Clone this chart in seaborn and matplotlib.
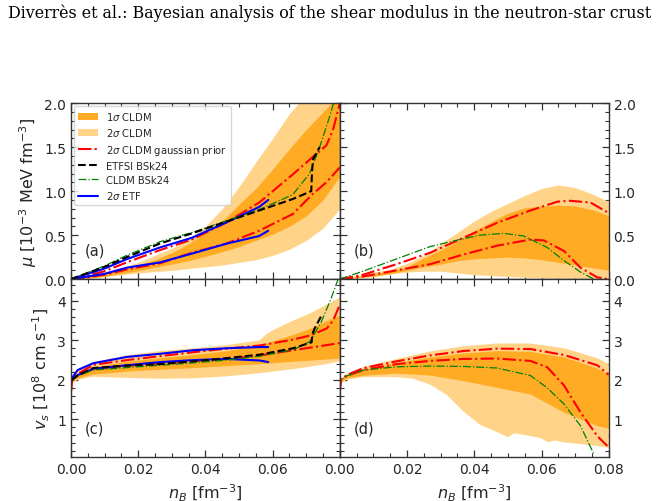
import numpy as np
import pandas as pd
import matplotlib
matplotlib.use("Agg")
import matplotlib.pyplot as plt
from matplotlib.patches import Patch
from matplotlib.lines import Line2D
from matplotlib.ticker import MultipleLocator, FuncFormatter
import seaborn as sns

# ---------------- data ----------------
# Panel (a): shear modulus, band grid
n_band = [0, 0.005, 0.01, 0.015, 0.02, 0.025, 0.03, 0.035, 0.04, 0.045, 0.05,
          0.055, 0.06, 0.065, 0.07, 0.075, 0.08]
a_2s_up = [0, 0.04, 0.08, 0.13, 0.19, 0.27, 0.35, 0.45, 0.60, 0.80, 1.05,
           1.33, 1.60, 1.88, 2.10, 2.30, 2.50]
a_2s_lo = [0, 0.01, 0.03, 0.05, 0.07, 0.085, 0.10, 0.12, 0.14, 0.16, 0.19,
           0.22, 0.27, 0.34, 0.44, 0.58, 0.80]
a_1s_up = [0, 0.03, 0.07, 0.11, 0.16, 0.22, 0.30, 0.40, 0.53, 0.66, 0.85,
           1.03, 1.25, 1.48, 1.70, 1.90, 2.10]
a_1s_lo = [0, 0.012, 0.03, 0.065, 0.095, 0.135, 0.17, 0.21, 0.26, 0.31, 0.37,
           0.44, 0.51, 0.60, 0.72, 0.90, 1.17]

a_red_up_n = [0, 0.005, 0.01, 0.0166, 0.0265, 0.036, 0.046, 0.056, 0.066, 0.072, 0.076, 0.078, 0.08]
a_red_up = [0, 0.04, 0.09, 0.19, 0.33, 0.45, 0.64, 0.87, 1.19, 1.39, 1.52, 1.70, 2.0]
a_red_lo_n = [0, 0.005, 0.01, 0.0166, 0.0265, 0.036, 0.046, 0.056, 0.066, 0.072, 0.076, 0.08]
a_red_lo = [0, 0.02, 0.05, 0.11, 0.18, 0.30, 0.40, 0.55, 0.74, 0.97, 1.10, 1.27]
a_etfsi_n = [0, 0.005, 0.01, 0.0166, 0.0265, 0.036, 0.046, 0.056, 0.066, 0.0715, 0.0717, 0.072, 0.074]
a_etfsi = [0, 0.07, 0.14, 0.25, 0.405, 0.52, 0.65, 0.78, 0.91, 1.0, 1.2, 1.36, 1.50]
a_cldm_n = [0, 0.005, 0.01, 0.0166, 0.0265, 0.036, 0.046, 0.056, 0.066, 0.071, 0.074, 0.077, 0.0785]
a_cldm = [0, 0.075, 0.15, 0.27, 0.425, 0.53, 0.66, 0.79, 0.96, 1.20, 1.50, 1.85, 2.05]
a_etf_n = [0, 0.005, 0.01, 0.0166, 0.0265, 0.036, 0.046, 0.056, 0.0587]
a_etf_up = [0, 0.06, 0.12, 0.227, 0.36, 0.47, 0.64, 0.82, 0.90]
a_etf_lo = [0, 0.03, 0.06, 0.13, 0.19, 0.29, 0.40, 0.49, 0.55]

# Panel (b)
b_2s_up = [0, 0.04, 0.08, 0.11, 0.18, 0.27, 0.40, 0.53, 0.66, 0.77, 0.86,
           0.95, 1.03, 1.07, 1.04, 0.97, 0.88]
b_2s_lo = [0, 0.02, 0.04, 0.06, 0.08, 0.09, 0.09, 0.07, 0.05, 0.04, 0.03,
           0.02, 0.015, 0.01, 0.01, 0.01, 0.01]
b_1s_up = [0, 0.03, 0.06, 0.09, 0.14, 0.24, 0.33, 0.43, 0.55, 0.65, 0.75,
           0.81, 0.83, 0.84, 0.83, 0.79, 0.72]
b_1s_lo = [0, 0.015, 0.03, 0.06, 0.10, 0.14, 0.17, 0.21, 0.23, 0.24, 0.25,
           0.24, 0.22, 0.19, 0.16, 0.13, 0.10]
b_red_up_n = [0, 0.0069, 0.0169, 0.0269, 0.0368, 0.0468, 0.0567, 0.0647, 0.0686, 0.0746, 0.0796]
b_red_up = [0, 0.05, 0.17, 0.30, 0.47, 0.64, 0.78, 0.88, 0.89, 0.87, 0.76]
b_red_lo_n = [0, 0.0069, 0.0169, 0.0269, 0.0368, 0.0468, 0.0567, 0.0607, 0.0667, 0.0716, 0.0766, 0.08]
b_red_lo = [0, 0.03, 0.10, 0.17, 0.28, 0.38, 0.45, 0.44, 0.32, 0.13, 0.02, 0.0]
b_cldm_n = [0, 0.0069, 0.0169, 0.0269, 0.0368, 0.0418, 0.0487, 0.0547, 0.0617, 0.0667, 0.0716, 0.0756]
b_cldm = [0, 0.09, 0.23, 0.37, 0.46, 0.50, 0.52, 0.49, 0.36, 0.21, 0.08, 0.0]

# Panel (c): sound speed
c_2s_up_n = [0, 0.0003, 0.002, 0.0066, 0.0166, 0.0265, 0.0364, 0.0463, 0.0562, 0.058, 0.06,
             0.0661, 0.0711, 0.0761, 0.08]
c_2s_up = [1.8, 2.05, 2.25, 2.45, 2.62, 2.73, 2.80, 2.88, 3.0, 3.15, 3.25, 3.50, 3.68, 3.90, 4.08]
c_2s_lo_n = [0, 0.0003, 0.002, 0.0066, 0.0166, 0.0265, 0.0364, 0.0463, 0.0562, 0.0661, 0.0761, 0.08]
c_2s_lo = [1.8, 1.9, 2.0, 2.08, 2.05, 2.03, 2.04, 2.09, 2.17, 2.27, 2.40, 2.47]
c_1s_n = [0, 0.0003, 0.002, 0.0066, 0.0166, 0.0265, 0.0364, 0.0463, 0.0562, 0.0661, 0.0711, 0.0761, 0.08]
c_1s_up = [1.8, 2.0, 2.15, 2.33, 2.47, 2.56, 2.64, 2.74, 2.88, 3.15, 3.30, 3.50, 3.65]
c_1s_lo = [1.8, 1.95, 2.05, 2.15, 2.22, 2.27, 2.31, 2.36, 2.41, 2.47, 2.50, 2.53, 2.55]
c_red_up_n = [0, 0.0003, 0.002, 0.0066, 0.0166, 0.0265, 0.0364, 0.0463, 0.0562, 0.0661, 0.0711, 0.0761, 0.078, 0.08]
c_red_up = [1.7, 2.0, 2.15, 2.38, 2.50, 2.60, 2.70, 2.79, 2.87, 3.02, 3.12, 3.30, 3.50, 3.90]
c_red_lo_n = [0, 0.0003, 0.002, 0.0066, 0.0166, 0.0265, 0.0364, 0.0463, 0.0562, 0.0661, 0.0761, 0.08]
c_red_lo = [1.7, 1.98, 2.10, 2.28, 2.36, 2.42, 2.48, 2.53, 2.62, 2.75, 2.88, 2.93]
c_etfsi_n = [0.0003, 0.002, 0.0066, 0.0166, 0.0265, 0.0364, 0.0463, 0.0562, 0.0661, 0.0716, 0.0718, 0.0725, 0.0745]
c_etfsi = [2.0, 2.12, 2.30, 2.36, 2.40, 2.47, 2.55, 2.64, 2.80, 2.95, 3.15, 3.30, 3.62]
c_cldm_n = [0.0003, 0.002, 0.0066, 0.0166, 0.0265, 0.0364, 0.0463, 0.0562, 0.0661, 0.0711, 0.0744, 0.0774, 0.0795]
c_cldm = [2.0, 2.10, 2.25, 2.31, 2.37, 2.43, 2.50, 2.60, 2.76, 2.97, 3.45, 4.06, 4.55]
c_etf_n = [0, 0.0003, 0.002, 0.0066, 0.0166, 0.0265, 0.0364, 0.0463, 0.0562, 0.0587]
c_etf_up = [1.95, 2.05, 2.25, 2.42, 2.58, 2.66, 2.75, 2.80, 2.83, 2.83]
c_etf_lo = [1.95, 2.0, 2.12, 2.28, 2.37, 2.45, 2.50, 2.53, 2.49, 2.45]

# Panel (d)
d_2s_up_n = [0, 0.0003, 0.002, 0.007, 0.0169, 0.0269, 0.0368, 0.0468, 0.0567, 0.0667, 0.0766, 0.08]
d_2s_up = [1.8, 2.02, 2.15, 2.32, 2.53, 2.72, 2.85, 2.92, 2.92, 2.80, 2.55, 2.40]
d_2s_lo_n = [0, 0.0003, 0.002, 0.007, 0.0169, 0.0218, 0.0269, 0.0318, 0.0368, 0.0418, 0.0468,
             0.05, 0.052, 0.0567, 0.06, 0.062, 0.064, 0.0667, 0.0766, 0.08]
d_2s_lo = [1.7, 1.9, 2.0, 2.07, 2.07, 2.03, 1.88, 1.62, 1.20, 0.86, 0.68,
           0.55, 0.65, 0.58, 0.52, 0.42, 0.47, 0.42, 0.33, 0.28]
d_1s_n = [0, 0.0003, 0.002, 0.007, 0.0169, 0.0269, 0.0368, 0.0468, 0.0567, 0.0667, 0.0766, 0.08]
d_1s_up = [1.8, 2.0, 2.12, 2.26, 2.44, 2.58, 2.68, 2.74, 2.72, 2.58, 2.30, 2.13]
d_1s_lo = [1.8, 1.95, 2.05, 2.12, 2.17, 2.12, 1.98, 1.81, 1.64, 1.18, 0.84, 0.78]
d_red_up_n = [0, 0.0003, 0.002, 0.007, 0.0169, 0.0269, 0.0368, 0.0468, 0.0567, 0.0667, 0.0766, 0.08]
d_red_up = [1.7, 2.0, 2.12, 2.30, 2.47, 2.62, 2.73, 2.79, 2.78, 2.63, 2.37, 2.13]
d_red_lo_n = [0, 0.0003, 0.002, 0.007, 0.0169, 0.0269, 0.0368, 0.0468, 0.0567, 0.0617, 0.0667, 0.0716, 0.0766, 0.0796]
d_red_lo = [1.7, 2.0, 2.10, 2.25, 2.40, 2.48, 2.53, 2.54, 2.48, 2.32, 1.86, 1.18, 0.58, 0.33]
d_cldm_n = [0, 0.0003, 0.002, 0.007, 0.0169, 0.0269, 0.0368, 0.0468, 0.0567, 0.0617, 0.0667, 0.0716, 0.0756]
d_cldm = [1.8, 2.0, 2.10, 2.25, 2.33, 2.35, 2.34, 2.30, 2.11, 1.80, 1.39, 0.84, 0.12]

legend_labels = [r"1$\sigma$ CLDM", r"2$\sigma$ CLDM", r"2$\sigma$ CLDM gaussian prior",
                 "ETFSI BSk24", "CLDM BSk24", r"2$\sigma$ ETF"]
title_text = "Diverrès et al.: Bayesian analysis of the shear modulus in the neutron-star crust"

# ---------------- style ----------------
sns.set_theme(style="ticks")
plt.rcParams["font.family"] = ["DejaVu Sans"]
plt.rcParams["mathtext.fontset"] = "dejavusans"

C_DARK = "#ffab24"
C_LIGHT = "#ffd488"
RED_KW = dict(color="red", linestyle="-.", lw=1.5)
GREEN_KW = dict(color="green", linestyle="-.", lw=0.9)
BLACK_KW = dict(color="black", linestyle="--", lw=1.5)
BLUE_KW = dict(color="blue", linestyle="-", lw=1.5)

fig = plt.figure(figsize=(6.59, 5.02), dpi=100)
L, W = 0.1077, 0.408
axa = fig.add_axes([L, 0.442, W, 0.3506])
axb = fig.add_axes([L + W, 0.442, W, 0.3506], sharey=axa)
axc = fig.add_axes([L, 0.0876, W, 0.3546])
axd = fig.add_axes([L + W, 0.0876, W, 0.3546], sharey=axc)


def line(ax, x, y, kw):
    df = pd.DataFrame({"x": x, "y": y})
    sns.lineplot(data=df, x="x", y="y", ax=ax, sort=False, estimator=None,
                 legend=False, **kw)


def band(ax, x, lo, hi, color):
    ax.fill_between(x, lo, hi, color=color, lw=0)


def band2(ax, xu, yu, xl, yl, color):
    # region between two edges given on different grids
    xs = list(xu) + list(xl)[::-1]
    ys = list(yu) + list(yl)[::-1]
    ax.fill(xs, ys, color=color, lw=0)


# (a)
band(axa, n_band, a_2s_lo, a_2s_up, C_LIGHT)
band(axa, n_band, a_1s_lo, a_1s_up, C_DARK)
line(axa, a_red_up_n, a_red_up, RED_KW)
line(axa, a_red_lo_n, a_red_lo, RED_KW)
line(axa, a_etf_n, a_etf_up, BLUE_KW)
line(axa, a_etf_n, a_etf_lo, BLUE_KW)
line(axa, a_cldm_n, a_cldm, GREEN_KW)
line(axa, a_etfsi_n, a_etfsi, BLACK_KW)

# (b)
band(axb, n_band, b_2s_lo, b_2s_up, C_LIGHT)
band(axb, n_band, b_1s_lo, b_1s_up, C_DARK)
line(axb, b_red_up_n, b_red_up, RED_KW)
line(axb, b_red_lo_n, b_red_lo, RED_KW)
line(axb, b_cldm_n, b_cldm, GREEN_KW)

# (c)
band2(axc, c_2s_up_n, c_2s_up, c_2s_lo_n, c_2s_lo, C_LIGHT)
band(axc, c_1s_n, c_1s_lo, c_1s_up, C_DARK)
line(axc, c_red_up_n, c_red_up, RED_KW)
line(axc, c_red_lo_n, c_red_lo, RED_KW)
line(axc, c_etf_n, c_etf_up, BLUE_KW)
line(axc, c_etf_n, c_etf_lo, BLUE_KW)
line(axc, c_cldm_n, c_cldm, GREEN_KW)
line(axc, c_etfsi_n, c_etfsi, BLACK_KW)

# (d)
band2(axd, d_2s_up_n, d_2s_up, d_2s_lo_n, d_2s_lo, C_LIGHT)
band(axd, d_1s_n, d_1s_lo, d_1s_up, C_DARK)
line(axd, d_red_up_n, d_red_up, RED_KW)
line(axd, d_red_lo_n, d_red_lo, RED_KW)
line(axd, d_cldm_n, d_cldm, GREEN_KW)

# axes formatting
fmt_left = FuncFormatter(lambda v, p: "" if v > 0.079 else f"{v:.2f}")
fmt_right = FuncFormatter(lambda v, p: f"{v:.2f}")
for ax in (axa, axb, axc, axd):
    ax.set_xlim(0, 0.08)
    ax.xaxis.set_major_locator(MultipleLocator(0.02))
    ax.xaxis.set_minor_locator(MultipleLocator(0.005))
    ax.tick_params(which="both", direction="in", top=True, bottom=True,
                   left=True, right=True, labelsize=10, colors="#333333",
                   labelcolor="#262626")
    ax.tick_params(which="major", length=5, width=0.9)
    ax.tick_params(which="minor", length=3, width=0.8)
    for s in ax.spines.values():
        s.set_color("#333333")
        s.set_linewidth(1.0)
    ax.set_xlabel("")
    ax.set_ylabel("")

for ax in (axa, axb):
    ax.set_ylim(0, 2.0)
    ax.yaxis.set_major_locator(MultipleLocator(0.5))
    ax.yaxis.set_minor_locator(MultipleLocator(0.1))
    ax.tick_params(labelbottom=False)
for ax in (axc, axd):
    ax.set_ylim(0.05, 4.55)
    ax.yaxis.set_major_locator(MultipleLocator(1))
    ax.yaxis.set_minor_locator(MultipleLocator(0.2))
    ax.set_xlabel(r"$n_B$ [fm$^{-3}$]", fontsize=11.5, color="#262626")

for ax in (axb, axd):
    ax.tick_params(which="both", labelleft=False, labelright=True)
axc.xaxis.set_major_formatter(fmt_left)
axd.xaxis.set_major_formatter(fmt_right)
axa.yaxis.set_major_formatter(FuncFormatter(lambda v, p: f"{v:.1f}"))
axb.yaxis.set_major_formatter(FuncFormatter(lambda v, p: f"{v:.1f}"))

axa.set_ylabel(r"$\mu$ [10$^{-3}$ MeV fm$^{-3}$]", fontsize=11.5, color="#262626")
axc.set_ylabel(r"$v_s$ [10$^{8}$ cm s$^{-1}$]", fontsize=11.5, color="#262626")

for ax, lab in zip((axa, axb, axc, axd), ("(a)", "(b)", "(c)", "(d)")):
    ax.text(0.05, 0.165, lab, transform=ax.transAxes, fontsize=10.5,
            va="center", ha="left", color="#262626")

handles = [Patch(facecolor=C_DARK, edgecolor="none"),
           Patch(facecolor=C_LIGHT, edgecolor="none"),
           Line2D([], [], **RED_KW),
           Line2D([], [], **BLACK_KW),
           Line2D([], [], **GREEN_KW),
           Line2D([], [], **BLUE_KW)]
axa.legend(handles, legend_labels, loc="upper left", fontsize=7.2,
           frameon=True, fancybox=True, framealpha=0.8, edgecolor="#cccccc",
           borderaxespad=0.3, labelspacing=0.42)

fig.text(0.012, 0.974, title_text, fontsize=11.4, family=["DejaVu Serif"],
         va="center", ha="left", color="black")

fig.savefig("out.png", dpi=100)
